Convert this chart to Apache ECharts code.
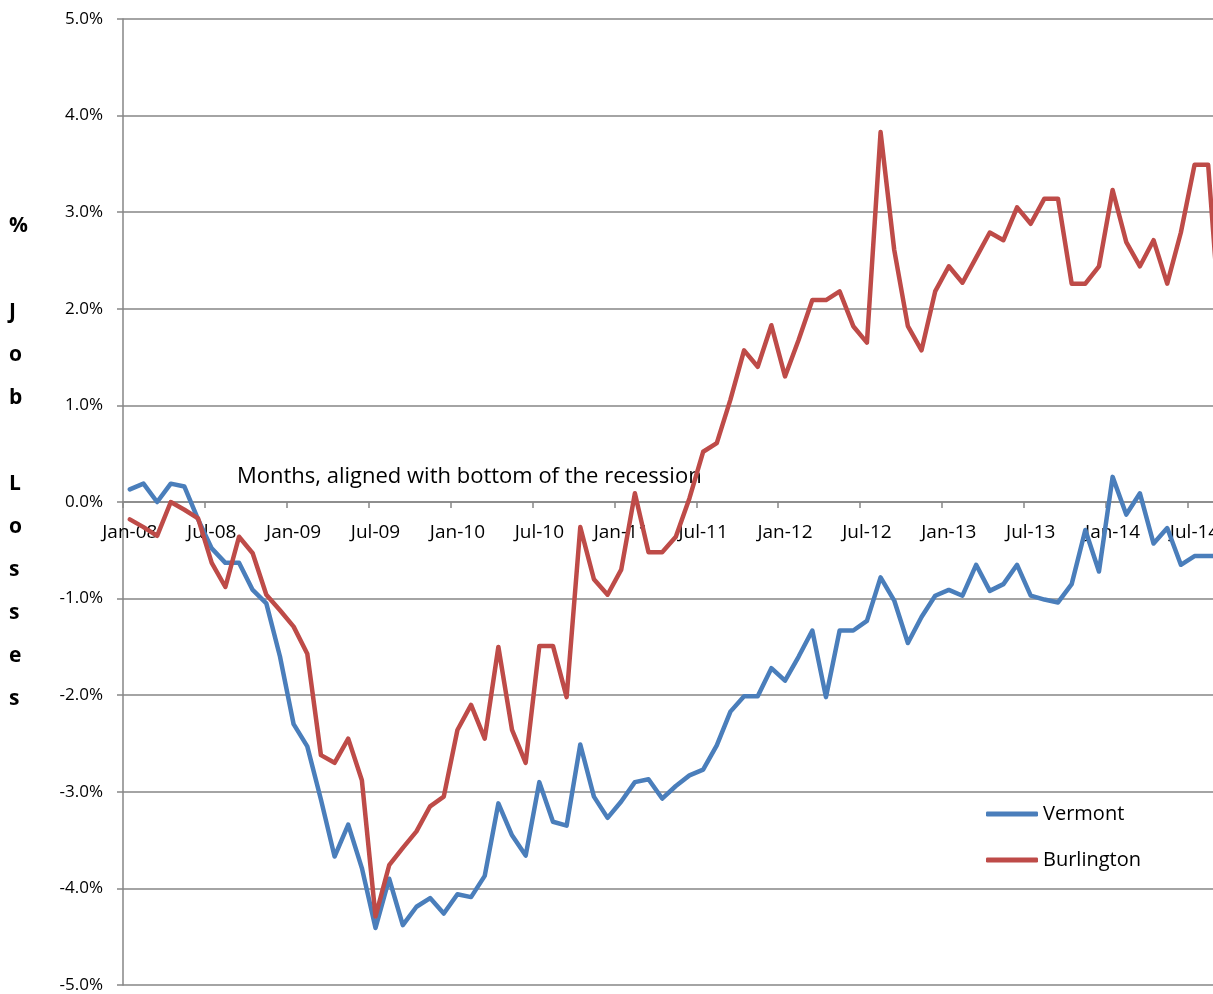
<!DOCTYPE html>
<html>
<head>
<meta charset="utf-8">
<title>Job losses, Vermont vs Burlington</title>
<script src="https://cdn.jsdelivr.net/npm/echarts@6/dist/echarts.min.js"></script>
<style>
  html, body { margin: 0; padding: 0; background: #fff; }
  #chart { width: 1213px; height: 994px; }
</style>
</head>
<body>
<div id="chart"></div>
<script>
// months, aligned with the bottom of the recession
var months = [
  'Jan-08','Feb-08','Mar-08','Apr-08','May-08','Jun-08','Jul-08','Aug-08','Sep-08','Oct-08','Nov-08','Dec-08',
  'Jan-09','Feb-09','Mar-09','Apr-09','May-09','Jun-09','Jul-09','Aug-09','Sep-09','Oct-09','Nov-09','Dec-09',
  'Jan-10','Feb-10','Mar-10','Apr-10','May-10','Jun-10','Jul-10','Aug-10','Sep-10','Oct-10','Nov-10','Dec-10',
  'Jan-11','Feb-11','Mar-11','Apr-11','May-11','Jun-11','Jul-11','Aug-11','Sep-11','Oct-11','Nov-11','Dec-11',
  'Jan-12','Feb-12','Mar-12','Apr-12','May-12','Jun-12','Jul-12','Aug-12','Sep-12','Oct-12','Nov-12','Dec-12',
  'Jan-13','Feb-13','Mar-13','Apr-13','May-13','Jun-13','Jul-13','Aug-13','Sep-13','Oct-13','Nov-13','Dec-13',
  'Jan-14','Feb-14','Mar-14','Apr-14','May-14','Jun-14','Jul-14','Aug-14','Sep-14'
];

// % job losses (percent)
var vermont = [
  0.13, 0.19, 0.00, 0.19, 0.16, -0.18, -0.48, -0.63, -0.63, -0.91, -1.05, -1.60,
  -2.30, -2.53, -3.08, -3.67, -3.34, -3.79, -4.41, -3.90, -4.38, -4.19, -4.10, -4.26,
  -4.06, -4.09, -3.87, -3.12, -3.45, -3.66, -2.90, -3.31, -3.35, -2.51, -3.05, -3.27,
  -3.10, -2.90, -2.87, -3.07, -2.94, -2.83, -2.77, -2.52, -2.17, -2.01, -2.01, -1.72,
  -1.85, -1.60, -1.33, -2.02, -1.33, -1.33, -1.23, -0.78, -1.02, -1.46, -1.19, -0.97,
  -0.91, -0.97, -0.65, -0.92, -0.85, -0.65, -0.97, -1.01, -1.04, -0.85, -0.29, -0.72,
  0.26, -0.13, 0.09, -0.43, -0.27, -0.65, -0.56, -0.56, -0.56
];
var burlington = [
  -0.18, -0.26, -0.35, 0.00, -0.08, -0.17, -0.63, -0.88, -0.36, -0.53, -0.96, -1.12,
  -1.29, -1.57, -2.62, -2.70, -2.45, -2.88, -4.29, -3.76, -3.58, -3.41, -3.15, -3.05,
  -2.36, -2.10, -2.45, -1.50, -2.36, -2.70, -1.49, -1.49, -2.02, -0.26, -0.80, -0.96,
  -0.70, 0.09, -0.52, -0.52, -0.36, 0.04, 0.52, 0.61, 1.06, 1.57, 1.40, 1.83,
  1.30, 1.68, 2.09, 2.09, 2.18, 1.82, 1.65, 3.83, 2.61, 1.82, 1.57, 2.18,
  2.44, 2.27, 2.53, 2.79, 2.71, 3.05, 2.88, 3.14, 3.14, 2.26, 2.26, 2.44,
  3.23, 2.69, 2.44, 2.71, 2.26, 2.79, 3.49, 3.49, 1.60
];

var FONT = '"Open Sans", "Noto Sans", sans-serif';
var GRID_GRAY = '#868686';
var PLOT_H = 966;

var chart = echarts.init(document.getElementById('chart'));

chart.setOption({
  animation: false,
  backgroundColor: '#ffffff',
  color: ['#4a7ebb', '#be4b48'],
  textStyle: { fontFamily: FONT },
  grid: {
    left: 123,
    top: 19,
    height: PLOT_H,
    width: 81 * 13.65,
    containLabel: false,
    outerBoundsMode: 'none'
  },
  legend: {
    orient: 'vertical',
    left: 981,
    top: 799,
    itemWidth: 52,
    itemHeight: 5,
    itemGap: 26,
    icon: 'roundRect',
    textStyle: { fontFamily: FONT, fontSize: 20, color: '#000' },
    data: ['Vermont', 'Burlington']
  },
  xAxis: {
    type: 'category',
    data: months,
    boundaryGap: true,
    position: 'bottom',
    // sits on the 0% line, inside the plot
    offset: -PLOT_H / 2,
    axisLine: { onZero: false, lineStyle: { color: GRID_GRAY, width: 1.5 } },
    axisTick: { show: true, interval: 5, length: 6, lineStyle: { color: GRID_GRAY, width: 1.5 } },
    axisLabel: {
      interval: 5,
      margin: 21,
      fontFamily: FONT,
      fontSize: 19,
      color: '#000'
    },
    splitLine: { show: false }
  },
  yAxis: {
    type: 'value',
    min: -5,
    max: 5,
    interval: 1,
    axisLine: { show: true, lineStyle: { color: GRID_GRAY, width: 1.5 } },
    axisTick: { show: true, length: 6, lineStyle: { color: GRID_GRAY, width: 1.5 } },
    axisLabel: {
      margin: 20,
      fontFamily: FONT,
      fontSize: 17,
      color: '#000',
      formatter: function (v) { return v.toFixed(1) + '%'; }
    },
    splitLine: { show: true, lineStyle: { color: GRID_GRAY, width: 1.5 } }
  },
  graphic: [
    {
      // vertical stacked y-axis title
      type: 'text',
      left: 9,
      top: 205,
      style: {
        text: '%\n\nJ\no\nb\n\nL\no\ns\ns\ne\ns',
        font: 'bold 21px ' + FONT,
        fill: '#000',
        align: 'center',
        lineHeight: 43
      }
    },
    {
      type: 'text',
      left: 237,
      top: 466,
      style: {
        text: 'Months, aligned with bottom of the recession',
        font: '22px ' + FONT,
        fill: '#000'
      }
    }
  ],
  series: [
    {
      name: 'Vermont',
      type: 'line',
      data: vermont,
      showSymbol: false,
      symbol: 'none',
      lineStyle: { width: 4.5, cap: 'round', join: 'round' }
    },
    {
      name: 'Burlington',
      type: 'line',
      data: burlington,
      showSymbol: false,
      symbol: 'none',
      lineStyle: { width: 4.5, cap: 'round', join: 'round' }
    }
  ]
});
</script>
</body>
</html>
